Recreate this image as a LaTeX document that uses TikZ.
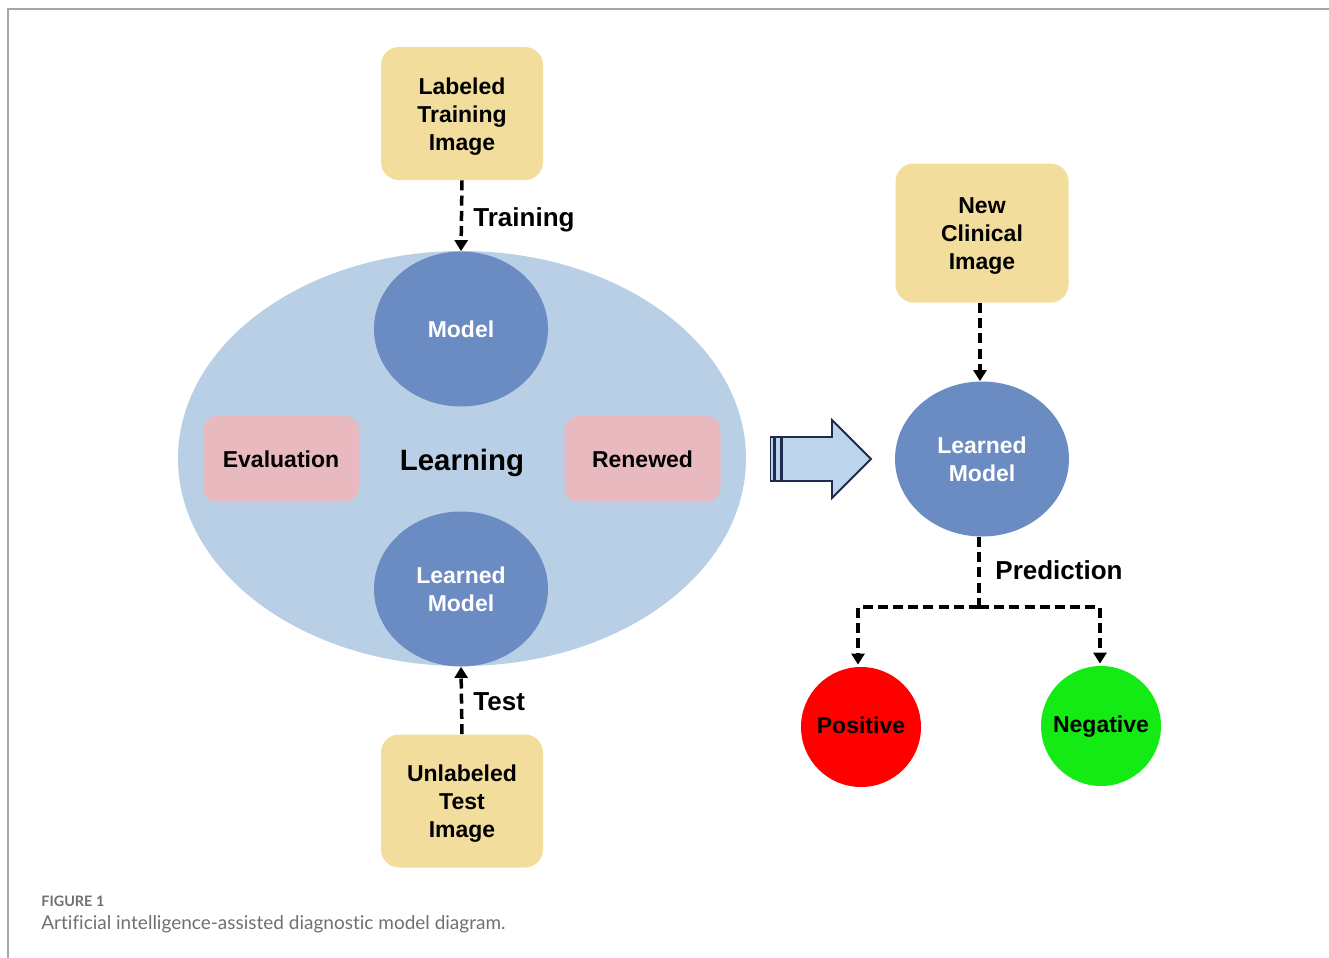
\documentclass[tikz,border=0pt]{standalone}
\usepackage{fontspec}
\setmainfont{Liberation Sans}
\newfontfamily\capfont[Ligatures={NoCommon}]{Lato}
\usetikzlibrary{shapes.geometric,arrows.meta}
\definecolor{boxyellow}{HTML}{F2DD9C}
\definecolor{boxpink}{HTML}{E8B9BF}
\definecolor{bigblue}{HTML}{B9CFE6}
\definecolor{modelblue}{HTML}{6B8CC2}
\definecolor{navy}{HTML}{1F2A4C}
\definecolor{arrowfill}{HTML}{BDD5EC}
\definecolor{capgray}{HTML}{707070}
\definecolor{framegray}{HTML}{A6A6A6}
% extra room above the first line of a stacked label
\newcommand{\firstlinegap}{\rule{0pt}{11.2pt}}
\tikzset{
  imgbox/.style={rectangle, rounded corners=9pt, fill=boxyellow, draw=none,
    minimum width=81pt, minimum height=66.5pt, align=center, inner sep=0pt,
    font=\fontsize{11.5pt}{14pt}\selectfont\bfseries},
  pinkbox/.style={rectangle, rounded corners=7pt, fill=boxpink, draw=none,
    minimum width=78pt, minimum height=43pt, inner sep=0pt,
    font=\fontsize{11.5pt}{14pt}\selectfont\bfseries},
  modelnode/.style={ellipse, fill=modelblue, draw=none, text=white,
    minimum width=87pt, minimum height=77.5pt, inner sep=0pt, align=center,
    font=\fontsize{11.5pt}{14pt}\selectfont\bfseries},
  resultnode/.style={circle, draw=none, minimum size=60pt, inner sep=0pt,
    text height=8.5pt, text depth=2.4pt,
    font=\fontsize{11.5pt}{14pt}\selectfont\bfseries},
  flowlabel/.style={anchor=west, inner sep=0pt, font=\fontsize{13pt}{15pt}\selectfont\bfseries},
  dashflow/.style={line width=1.75pt, dash pattern=on 5pt off 2.6pt},
  dashtip/.style={dashflow, -{Triangle[width=6.5pt,length=5.5pt]}},
}
\begin{document}
\begin{tikzpicture}[x=0.5pt,y=-0.5pt]
\useasboundingbox (0,0) rectangle (1329,958);
% open frame at top and left
\draw[framegray, line width=1pt] (1329,9) -- (8,9) -- (8,958);

% learning cycle
\node[ellipse, fill=bigblue, minimum width=284pt, minimum height=207.5pt, inner sep=0pt] (learn) at (462,458.5) {};
\node[modelnode] (model) at (461,329) {Model};
\node[modelnode] (lmodel) at (461,589) {Learned\\Model};
\node[pinkbox] (eval) at (281,459) {Evaluation};
\node[pinkbox] (renew) at (642.5,459) {Renewed};
\node[font=\fontsize{14.7pt}{16pt}\selectfont\bfseries, inner sep=0pt] (learning) at (462,463) {Learning};

% input images
\node[imgbox] (train) at (462,113.5) {\firstlinegap Labeled\\Training\\Image};
\node[imgbox] (test) at (462,801) {\firstlinegap Unlabeled\\Test\\Image};
\draw[dashtip] (train.south) -- (model.north);
\draw[dashtip] (test.north) -- (lmodel.south);
\node[flowlabel] (trainlbl) at (473,220) {Training};
\node[flowlabel] (testlbl) at (473,702) {Test};

% block arrow towards deployment
\draw[navy, line width=0.9pt, fill=arrowfill]
  (782,437) -- (832,437) -- (832,420) -- (871,459) -- (832,498) -- (832,481) -- (782,481) -- cycle;
\draw[navy, line width=0.9pt, fill=arrowfill] (775,437) rectangle (781,481);
\draw[navy, line width=0.9pt, fill=arrowfill] (770.5,437) rectangle (773.5,481);

% deployment
\node[imgbox, minimum width=86.5pt, minimum height=69.5pt] (newimg) at (982,233) {\firstlinegap New\\Clinical\\Image};
\node[modelnode] (dmodel) at (982,459) {Learned\\Model};
\draw[dashtip] (newimg.south -| 980,0) -- (dmodel.north -| 980,0);
\node[flowlabel] (predlbl) at (995,570) {Prediction};
\coordinate (fork) at (979,607);
\node[resultnode, fill=red] (pos) at (861,727) {Positive};
\node[resultnode, fill={rgb,255:red,20;green,234;blue,20}] (neg) at (1101,726) {Negative};
\draw[dashflow] (dmodel.south -| fork) -- (fork);
\draw[dashtip] (fork) -| ([yshift=1pt]pos.north -| 858,0);
\draw[dashtip] (fork) -| ([yshift=1pt]neg.north -| 1100,0);

% caption
\node[anchor=base west, inner sep=0pt, text=capgray, font=\capfont\fontsize{7.2pt}{8pt}\selectfont\bfseries] (capnum) at (41,906) {FIGURE 1};
\node[anchor=base west, inner sep=0pt, text=capgray, font=\capfont\fontsize{9.5pt}{11pt}\selectfont] (captext) at (41,929) {Artificial intelligence-assisted diagnostic model diagram.};
\end{tikzpicture}
\end{document}
